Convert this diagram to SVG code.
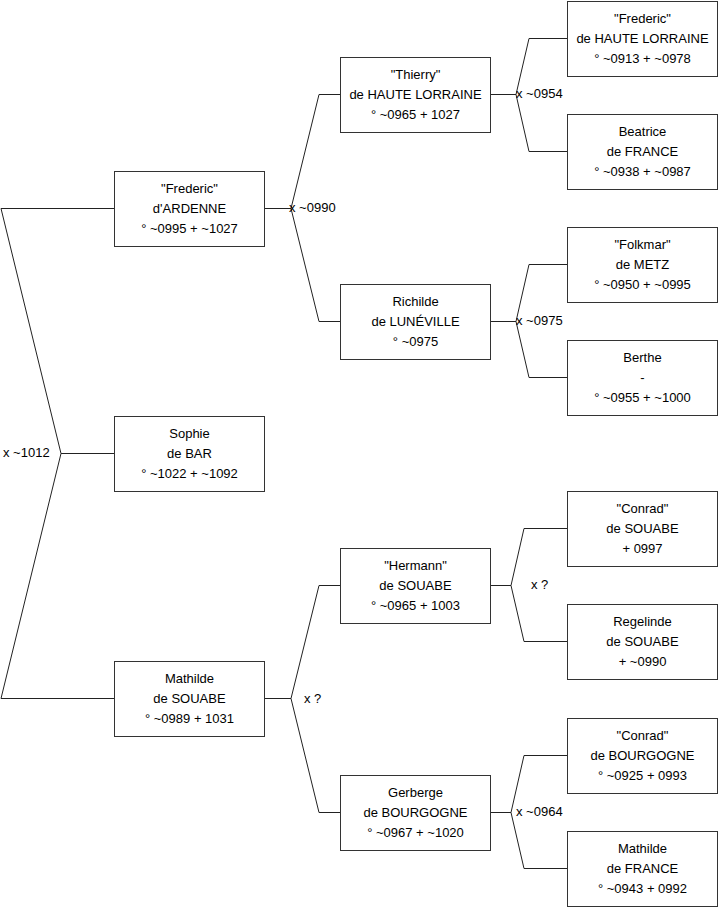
<svg xmlns="http://www.w3.org/2000/svg" width="719" height="908" viewBox="0 0 719 908">
<style>
.b rect{fill:#fff;stroke:#333;stroke-width:1}
text{font-family:"Liberation Sans",Arial,sans-serif;font-size:13px;fill:#000}
.b text{text-anchor:middle}
.c path{fill:none;stroke:#222;stroke-width:1}
</style>
<rect width="719" height="908" fill="#fff"/>
<g class="c" id="connectors">
<path d="M114,208.5H1L61,453.5L1,698.5H114M61,453.5H114"/>
<path d="M264,208.5H291M340,94.5H319L291,208.5L319,321.5H340"/>
<path d="M264,698.5H291M340,585.5H319L291,698.5L319,812.5H340"/>
<path d="M490,94.5H516M567,38.5H529L516,94.5L529,151.5H567"/>
<path d="M490,321.5H516M567,264.5H529L516,321.5L529,377.5H567"/>
<path d="M490,585.5H511M567,528.5H524L511,585.5L524,641.5H567"/>
<path d="M490,812.5H511M567,755.5H524L511,812.5L524,868.5H567"/>
<text x="3" y="457">x ~1012</text>
<text x="289" y="212">x ~0990</text>
<text x="304" y="703">x ?</text>
<text x="516" y="98">x ~0954</text>
<text x="516" y="325">x ~0975</text>
<text x="531" y="589">x ?</text>
<text x="516" y="816">x ~0964</text>
</g>
<g class="b" id="sophie"><rect x="114.5" y="416.5" width="150" height="75"/><text x="189.5" y="438">Sophie</text><text x="189.5" y="458">de BAR</text><text x="189.5" y="478">° ~1022 + ~1092</text></g>
<g class="b" id="frederic-ardenne"><rect x="114.5" y="171.5" width="150" height="75"/><text x="189.5" y="193">"Frederic"</text><text x="189.5" y="213">d'ARDENNE</text><text x="189.5" y="233">° ~0995 + ~1027</text></g>
<g class="b" id="mathilde-souabe"><rect x="114.5" y="661.5" width="150" height="75"/><text x="189.5" y="683">Mathilde</text><text x="189.5" y="703">de SOUABE</text><text x="189.5" y="723">° ~0989 + 1031</text></g>
<g class="b" id="thierry"><rect x="340.5" y="57.5" width="150" height="75"/><text x="415.5" y="79">"Thierry"</text><text x="415.5" y="99">de HAUTE LORRAINE</text><text x="415.5" y="119">° ~0965 + 1027</text></g>
<g class="b" id="richilde"><rect x="340.5" y="284.5" width="150" height="75"/><text x="415.5" y="306">Richilde</text><text x="415.5" y="326">de LUNÉVILLE</text><text x="415.5" y="346">° ~0975</text></g>
<g class="b" id="hermann"><rect x="340.5" y="548.5" width="150" height="75"/><text x="415.5" y="570">"Hermann"</text><text x="415.5" y="590">de SOUABE</text><text x="415.5" y="610">° ~0965 + 1003</text></g>
<g class="b" id="gerberge"><rect x="340.5" y="775.5" width="150" height="75"/><text x="415.5" y="797">Gerberge</text><text x="415.5" y="817">de BOURGOGNE</text><text x="415.5" y="837">° ~0967 + ~1020</text></g>
<g class="b" id="frederic-hl"><rect x="567.5" y="1.5" width="150" height="75"/><text x="642.5" y="23">"Frederic"</text><text x="642.5" y="43">de HAUTE LORRAINE</text><text x="642.5" y="63">° ~0913 + ~0978</text></g>
<g class="b" id="beatrice"><rect x="567.5" y="114.5" width="150" height="75"/><text x="642.5" y="136">Beatrice</text><text x="642.5" y="156">de FRANCE</text><text x="642.5" y="176">° ~0938 + ~0987</text></g>
<g class="b" id="folkmar"><rect x="567.5" y="227.5" width="150" height="75"/><text x="642.5" y="249">"Folkmar"</text><text x="642.5" y="269">de METZ</text><text x="642.5" y="289">° ~0950 + ~0995</text></g>
<g class="b" id="berthe"><rect x="567.5" y="340.5" width="150" height="75"/><text x="642.5" y="362">Berthe</text><text x="642.5" y="382">-</text><text x="642.5" y="402">° ~0955 + ~1000</text></g>
<g class="b" id="conrad-souabe"><rect x="567.5" y="491.5" width="150" height="75"/><text x="642.5" y="513">"Conrad"</text><text x="642.5" y="533">de SOUABE</text><text x="642.5" y="553">+ 0997</text></g>
<g class="b" id="regelinde"><rect x="567.5" y="604.5" width="150" height="75"/><text x="642.5" y="626">Regelinde</text><text x="642.5" y="646">de SOUABE</text><text x="642.5" y="666">+ ~0990</text></g>
<g class="b" id="conrad-bourgogne"><rect x="567.5" y="718.5" width="150" height="75"/><text x="642.5" y="740">"Conrad"</text><text x="642.5" y="760">de BOURGOGNE</text><text x="642.5" y="780">° ~0925 + 0993</text></g>
<g class="b" id="mathilde-france"><rect x="567.5" y="831.5" width="150" height="75"/><text x="642.5" y="853">Mathilde</text><text x="642.5" y="873">de FRANCE</text><text x="642.5" y="893">° ~0943 + 0992</text></g>
</svg>
